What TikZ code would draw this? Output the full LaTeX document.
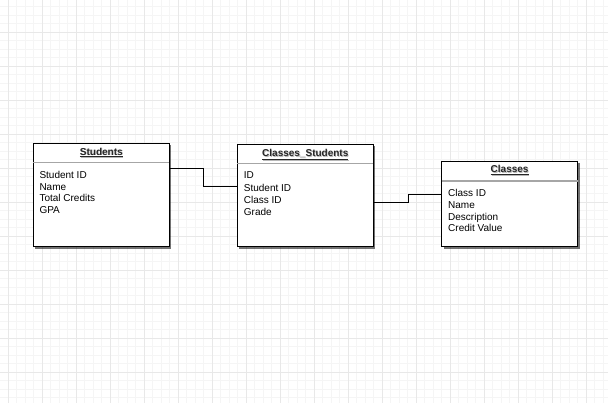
\documentclass[tikz,border=0pt]{standalone}
\usepackage{fontspec}
\setmainfont{Liberation Sans}
\usetikzlibrary{shadows,calc}
\begin{document}
\begin{tikzpicture}[x=1pt,y=-1pt,
  minorgrid/.style={draw=black!4, line width=0.8pt},
  majorgrid/.style={draw=black!9, line width=0.9pt},
  box/.style={draw=black, line width=1.2pt, fill=white, inner sep=0pt,
    minimum width=136pt,
    drop shadow={shadow xshift=2pt, shadow yshift=-2pt, fill=black, opacity=0.55}},
  sepline/.style={draw=black!35, line width=1.2pt},
  titletext/.style={font=\bfseries\fontsize{10}{12}\selectfont, inner sep=0pt, anchor=base, text=black!85},
  titleshadow/.style={titletext, text=black!28},
  itemtext/.style={font=\fontsize{10}{12}\selectfont, inner sep=0pt, anchor=base west},
  conn/.style={draw=black, line width=1pt}]
\useasboundingbox (0,0) rectangle (608,403);
\fill[white] (0,0) rectangle (608,403);
% grid
\foreach \i in {-1,...,71} \draw[minorgrid] ({8+8.5*\i},0) -- ({8+8.5*\i},403);
\foreach \i in {0,...,48} \draw[minorgrid] (0,{-2+8.5*\i}) -- (608,{-2+8.5*\i});
\foreach \i in {0,...,17} \draw[majorgrid] ({8+34*\i},0) -- ({8+34*\i},403);
\foreach \i in {1,...,11} \draw[majorgrid] (0,{-2+34*\i}) -- (608,{-2+34*\i});
% boxes
\node[box, minimum height=103.4pt] (students) at (101.3,195) {};
\node[box, minimum height=102.2pt] (cs) at (305.3,195.6) {};
\node[box, minimum height=85.2pt] (classes) at (509.6,204.1) {};
% separators
\draw[sepline] ($(students.north west)+(0.6,20)$) -- ($(students.north east)+(-0.6,20)$);
\draw[sepline] ($(cs.north west)+(0.6,19.7)$) -- ($(cs.north east)+(-0.6,19.7)$);
\draw[sepline] ($(classes.north west)+(0.6,20.1)$) -- ($(classes.north east)+(-0.6,20.1)$);
% titles
\node[titleshadow] (tsS) at ($(students.north)+(0.8,13.2)$) {\underline{Students}};
\node[titletext] (tS) at ($(students.north)+(0,12.4)$) {\underline{Students}};
\node[titleshadow] (tsC) at ($(cs.north)+(0.8,13.2)$) {\underline{Classes\_Students}};
\node[titletext] (tC) at ($(cs.north)+(0,12.4)$) {\underline{Classes\_Students}};
\node[titleshadow] (tsK) at ($(classes.north)+(0.8,12.5)$) {\underline{Classes}};
\node[titletext] (tK) at ($(classes.north)+(0,11.7)$) {\underline{Classes}};
% items
\node[itemtext] (s1) at ($(students.north west)+(6.6,35.7)$) {Student ID};
\node[itemtext] (s2) at ($(s1.base west)+(0,11.7)$) {Name};
\node[itemtext] (s3) at ($(s2.base west)+(0,11.7)$) {Total Credits};
\node[itemtext] (s4) at ($(s3.base west)+(0,11.7)$) {GPA};
\node[itemtext] (c1) at ($(cs.north west)+(7,35)$) {ID};
\node[itemtext] (c2) at ($(c1.base west)+(0,12.2)$) {Student ID};
\node[itemtext] (c3) at ($(c2.base west)+(0,12.2)$) {Class ID};
\node[itemtext] (c4) at ($(c3.base west)+(0,12.2)$) {Grade};
\node[itemtext] (k1) at ($(classes.north west)+(7,35.7)$) {Class ID};
\node[itemtext] (k2) at ($(k1.base west)+(0,11.8)$) {Name};
\node[itemtext] (k3) at ($(k2.base west)+(0,11.8)$) {Description};
\node[itemtext] (k4) at ($(k3.base west)+(0,11.8)$) {Credit Value};
% connectors
\draw[conn] ([yshift=-26pt]students.north east) -- ++(34,0) |- ([yshift=-42.8pt]cs.north west);
\draw[conn] ([yshift=-58.2pt]cs.north east) -- ++(34.4,0) |- ([yshift=-33.7pt]classes.north west);
\end{tikzpicture}
\end{document}
